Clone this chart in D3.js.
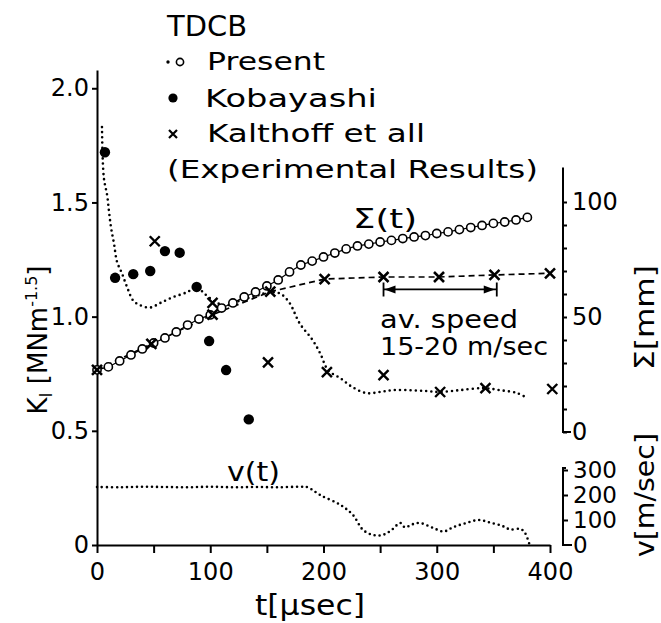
<!DOCTYPE html>
<html><head><meta charset="utf-8">
<script src="https://cdn.jsdelivr.net/npm/d3@7"></script>
<style>
body{margin:0;background:#fff}
svg text{font-family:"DejaVu Sans",sans-serif;fill:#000}
</style>
</head><body>
<svg id="c" width="661" height="623"></svg>
<script>
// ---------- data ----------
const tTicks = [0,50,100,150,200,250,300,350,400];
const tLabels = [0,100,200,300,400];
const kTicks = [0,0.5,1,1.5,2];
const kLabels = ["0","0.5","1.0","1.5","2.0"];
const sigmaTicks = [0,10,20,30,40,50,60,70,80,90,100];
const sigmaLabels = [0,50,100];
const vTicks = [0,100,200,300];

// Present: Sigma(t) open circles, every 10 microsec
const sigmaT = [0,10,20,30,40,50,60,70,80,90,100,110,120,130,140,150,160,170,180,190,200,210,220,230,240,250,260,270,280,290,300,310,320,330,340,350,360,370,380];
const sigmaPresent = [27.0,28.3,30.9,33.5,36.1,38.7,40.9,43.5,46.5,49.1,50.9,53.9,56.1,58.7,60.9,63.5,66.1,69.6,72.6,74.3,76.1,77.8,79.6,80.9,81.7,82.6,83.3,84.1,84.8,85.4,86.3,87.0,88.0,88.9,89.8,90.7,91.3,92.2,93.3];

// Present: K_I(t) dotted curve
const kPresentT = [4.4,6,9,10.6,12.4,15,17.7,22,26.5,32,38,47,56,67,79.5,88,95,106,115,126,140,153,162,170,179,190,197,204,215,226,238,250,261,276,291,303,320,341,356,371,380];
const kPresent  = [1.83,1.61,1.53,1.46,1.39,1.32,1.24,1.19,1.13,1.07,1.05,1.04,1.06,1.085,1.107,1.13,1.10,1.06,1.05,1.07,1.09,1.107,1.10,1.06,0.97,0.90,0.84,0.766,0.73,0.69,0.665,0.67,0.678,0.678,0.674,0.67,0.678,0.687,0.678,0.665,0.643];

// Present: v(t) dotted curve
const vT = [0,20,40,60,80,100,120,140,160,180,186,197,215,226,235,244,252,259,268,272,278,285,297,306,315,326,337,347,358,365,374,378,382];
const vPresent = [232,231,233,232,231,233,231,232,231,233,231,200,160,120,60,40,40,56,88,70,82,88,68,54,72,88,100,90,76,62,64,48,0];

// Kobayashi: K_I
const kobT = [7,16,32,47,60,73,88,99,114,134];
const kobK = [1.72,1.17,1.186,1.20,1.287,1.28,1.13,0.893,0.766,0.55];

// Kalthoff et al: K_I
const kalT = [51,102,151,203,253,303,343,402];
const kalK = [1.33,1.06,0.80,0.757,0.744,0.67,0.687,0.683];

// Kalthoff et al: Sigma
const kalST = [0,48,102,153,201,253,302,351,400];
const kalS  = [27,38.3,51,61,66.5,67.4,67.4,68.3,69];

// average-speed interval
const arrowT = [253,353];
const arrowSigma = 62;

// ---------- drawing ----------
const svg = d3.select("#c");
const x  = d3.scaleLinear([0,400],[97,550]);
const yK = d3.scaleLinear([0,2.08],[545,70]);
const yS = d3.scaleLinear([0,100],[432,202]);
const yV = d3.scaleLinear([0,300],[545,470]);
const FONT = '"DejaVu Sans",sans-serif';

function styleAxis(g, size){
  g.attr("font-family",FONT).attr("font-size",size);
  g.selectAll("path,line").attr("stroke","#000").attr("stroke-width",2);
  g.selectAll("text").attr("fill","#000");
}

// bottom axis
const gx = svg.append("g").attr("transform","translate(0,545)")
  .call(d3.axisBottom(x).tickValues(tTicks)
    .tickFormat(d => tLabels.includes(d) ? String(d) : "")
    .tickSize(8).tickSizeOuter(0).tickPadding(10));
styleAxis(gx,24);

// left axis
const gy = svg.append("g").attr("transform","translate(97,0)")
  .call(d3.axisLeft(yK).tickValues(kTicks)
    .tickFormat((d,i) => kLabels[i]).tickSize(5).tickSizeOuter(0).tickPadding(3));
styleAxis(gy,24);

// Sigma axis (right)
const gs = svg.append("g").attr("transform","translate(563,0)")
  .call(d3.axisRight(yS).tickValues(sigmaTicks)
    .tickFormat(d => sigmaLabels.includes(d) ? String(d) : "")
    .tickSize(4).tickPadding(5));
gs.select(".domain").remove();
styleAxis(gs,24);
gs.append("path").attr("d",`M0,${yS(115)}V${yS(0)}H8`)
  .attr("fill","none").attr("stroke","#000").attr("stroke-width",2);

// v axis (right)
const gv = svg.append("g").attr("transform","translate(563,0)")
  .call(d3.axisRight(yV).tickValues(vTicks)
    .tickFormat(d => String(d)).tickSize(5).tickPadding(5));
gv.select(".domain").remove();
styleAxis(gv,23);
gv.selectAll(".tick line").filter(d => d===0).remove();
gv.selectAll(".tick text").attr("dy","0.34em");
gv.append("path").attr("d",`M3,${yV(308)}H0V${yV(0)}H9`)
  .attr("fill","none").attr("stroke","#000").attr("stroke-width",2);

// text helper
function addText(str,xp,yp,size,len,anchor){
  const t = svg.append("text").attr("x",xp).attr("y",yp)
    .attr("font-size",size).attr("text-anchor",anchor||"start").text(str);
  if(len) t.attr("textLength",len).attr("lengthAdjust","spacingAndGlyphs");
  return t;
}

// axis titles
addText("t[μsec]",255,615,28,110,"start");

const kt = svg.append("text").attr("transform","translate(47,340) rotate(-90)")
  .attr("text-anchor","middle").attr("font-size",26);
kt.append("tspan").text("K");
kt.append("tspan").attr("font-size",17).attr("dy",5).text("I");
kt.append("tspan").attr("dy",-5).text(" [MNm");
kt.append("tspan").attr("font-size",16).attr("dy",-10).text("-1.5");
kt.append("tspan").attr("dy",10).text("]");

svg.append("text").attr("transform","translate(654,370) rotate(-90)")
  .attr("text-anchor","start").attr("font-size",27)
  .attr("textLength",105).attr("lengthAdjust","spacingAndGlyphs").text("Σ[mm]");
svg.append("text").attr("transform","translate(654,557) rotate(-90)")
  .attr("text-anchor","start").attr("font-size",27)
  .attr("textLength",124).attr("lengthAdjust","spacingAndGlyphs").text("v[m/sec]");

// Kalthoff Sigma dashed line
const sigK = kalST.map((t,i)=>[t,kalS[i]]);
svg.append("path").datum(sigK)
  .attr("d", d3.line().x(d=>x(d[0])).y(d=>yS(d[1])))
  .attr("fill","none").attr("stroke","#000").attr("stroke-width",1.7)
  .attr("stroke-dasharray","6,4");

// Present K dotted
const kp = kPresentT.map((t,i)=>[t,kPresent[i]]);
svg.append("path").datum(kp)
  .attr("d", d3.line().curve(d3.curveCatmullRom).x(d=>x(d[0])).y(d=>yK(d[1])))
  .attr("fill","none").attr("stroke","#000").attr("stroke-width",2.6)
  .attr("stroke-linecap","round").attr("stroke-dasharray","0,5.2");

// Present v dotted
const vp = vT.map((t,i)=>[t,vPresent[i]]);
svg.append("path").datum(vp)
  .attr("d", d3.line().curve(d3.curveCatmullRom).x(d=>x(d[0])).y(d=>yV(d[1])))
  .attr("fill","none").attr("stroke","#000").attr("stroke-width",2.6)
  .attr("stroke-linecap","round").attr("stroke-dasharray","0,5");

// Present Sigma open circles (with a thin connecting line)
const sp = sigmaT.map((t,i)=>[t,sigmaPresent[i]]);
svg.append("path").datum(sp)
  .attr("d", d3.line().x(d=>x(d[0])).y(d=>yS(d[1])))
  .attr("fill","none").attr("stroke","#000").attr("stroke-width",1.2);
svg.append("g").selectAll("circle").data(sp).join("circle")
  .attr("cx",d=>x(d[0])).attr("cy",d=>yS(d[1])).attr("r",4.1)
  .attr("fill","#fff").attr("stroke","#000").attr("stroke-width",1.6);

// cross marker helper
function crosses(data, yscale, h, w){
  svg.append("g").selectAll("path").data(data).join("path")
    .attr("d", d => {
      const cx = x(d[0]), cy = yscale(d[1]);
      return `M${cx-h},${cy-h}L${cx+h},${cy+h}M${cx-h},${cy+h}L${cx+h},${cy-h}`;
    })
    .attr("stroke","#000").attr("stroke-width",w).attr("fill","none");
}
crosses(sigK, yS, 5, 2.6);
crosses(kalT.map((t,i)=>[t,kalK[i]]), yK, 5, 2.4);

// Kobayashi filled dots
svg.append("g").selectAll("circle").data(kobT.map((t,i)=>[t,kobK[i]])).join("circle")
  .attr("cx",d=>x(d[0])).attr("cy",d=>yK(d[1])).attr("r",5.2).attr("fill","#000");

// av. speed arrow
const ay = yS(arrowSigma), ax0 = x(arrowT[0]), ax1 = x(arrowT[1]);
svg.append("path").attr("d",`M${ax0},${ay}H${ax1}M${ax0},${ay-7}V${ay+7}M${ax1},${ay-7}V${ay+7}`)
  .attr("stroke","#000").attr("stroke-width",1.8).attr("fill","none");
svg.append("path").attr("d",`M${ax0+1},${ay}L${ax0+12},${ay-4}L${ax0+12},${ay+4}Z`).attr("fill","#000");
svg.append("path").attr("d",`M${ax1-2},${ay}L${ax1-13},${ay-4}L${ax1-13},${ay+4}Z`).attr("fill","#000");

// annotations
addText("Σ(t)",353,228,26,64);
addText("av. speed",380,328,24,138);
addText("15-20 m/sec",380,355,24,168);
addText("v(t)",227,481,26,53);

// legend
addText("TDCB",167,36,28,80);
svg.append("circle").attr("cx",168).attr("cy",62).attr("r",1.7).attr("fill","#000");
svg.append("circle").attr("cx",180).attr("cy",62).attr("r",3.6).attr("fill","#fff").attr("stroke","#000").attr("stroke-width",1.6);
addText("Present",207,70,25,118);
svg.append("circle").attr("cx",173).attr("cy",98).attr("r",4.6).attr("fill","#000");
addText("Kobayashi",205,107,25,172);
svg.append("path").attr("d","M169,130L177,138M169,138L177,130").attr("stroke","#000").attr("stroke-width",2.2);
addText("Kalthoff et all",207,142,25,218);
addText("(Experimental Results)",167,178,25,371);
</script>
</body></html>
